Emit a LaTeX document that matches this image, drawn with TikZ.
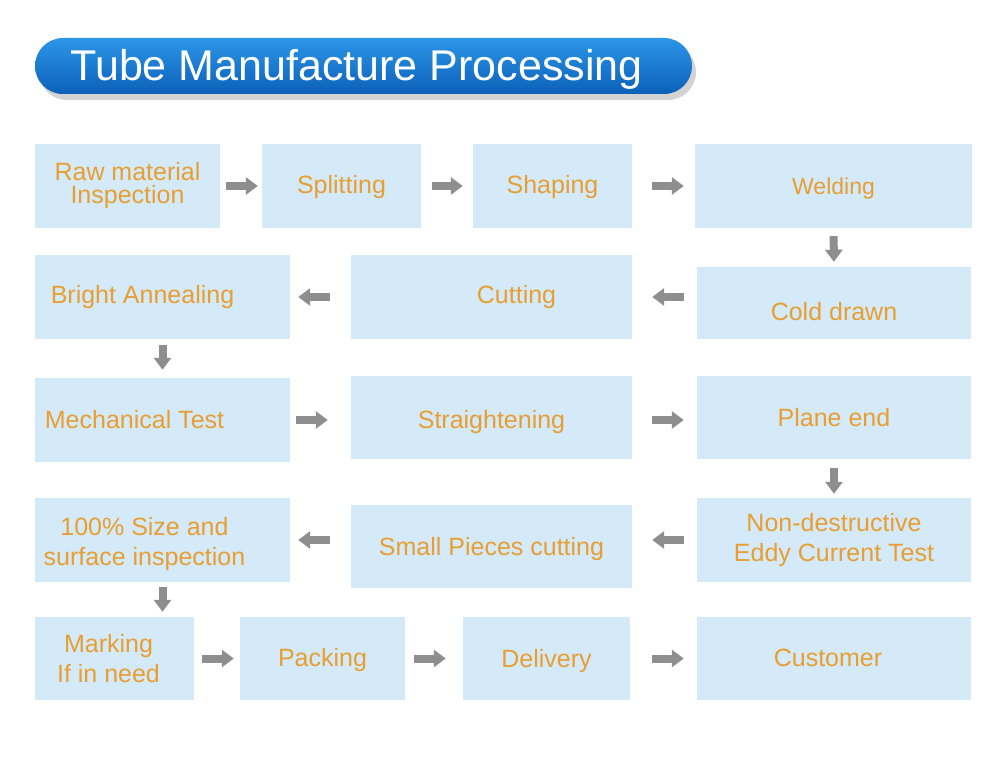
\documentclass[tikz,border=0pt]{standalone}
\usepackage{fontspec}
\setmainfont{Liberation Sans}
\usetikzlibrary{positioning,arrows.meta,calc,shadows}
\definecolor{boxBlue}{HTML}{D4EAF8}
\definecolor{labelOrange}{HTML}{E89E30}
\definecolor{arrowGray}{HTML}{8E8E8E}
\definecolor{titleTop}{HTML}{2C96E8}
\definecolor{titleBottom}{HTML}{0B60B8}
\newcommand{\nudge}[1]{\hspace*{#1}}

\begin{document}
\begin{tikzpicture}[x=1pt, y=-1pt, font=\fontsize{25}{30}\selectfont,
      proc/.style={fill=boxBlue, text=labelOrange, inner sep=0pt, align=center,
        minimum height=84pt},
      oneLine/.style={text height=#1, text depth=0pt},
      oneLine/.default=18pt,
      flow/.style={-{Triangle[length=12pt, width=17pt]}, line width=8pt, draw=arrowGray}]
    \useasboundingbox (0,0) rectangle (1000,765);
    % ---- title bar
    \node[rounded corners=28pt, top color=titleTop, bottom color=titleBottom,
      minimum width=657pt, minimum height=56pt, text=white,
      font=\fontsize{43}{50}\selectfont, text height=30pt, text depth=0pt,
      drop shadow={shadow xshift=4pt, shadow yshift=-6pt, opacity=0.35}] (title) at (363.5,66)
      {\nudge{-14pt}Tube Manufacture Processing};
    % ---- row 1
    \node[proc, minimum width=185pt, font=\fontsize{25}{23}\selectfont] (raw) at (127.5,186) {Raw material\\Inspection};
    \node[proc, oneLine=14pt, minimum width=159pt] (split) at (341.5,186) {Splitting};
    \node[proc, oneLine=14pt, minimum width=159pt] (shape) at (552.5,186) {Shaping};
    \node[proc, oneLine=17pt, minimum width=277pt, font=\fontsize{23}{28}\selectfont] (weld) at (833.5,186) {Welding};
    % ---- row 2
    \node[proc, oneLine=34pt, minimum width=274pt, minimum height=72pt] (cold) at (834,303) {Cold drawn};
    \node[proc, oneLine=13pt, minimum width=281pt] (cut) at (491.5,297) {\nudge{50pt}Cutting};
    \node[proc, oneLine=13pt, minimum width=255pt] (bright) at (162.5,297) {\nudge{-40pt}Bright Annealing};
    % ---- row 3
    \node[proc, oneLine=16pt, minimum width=255pt] (mech) at (162.5,420) {\nudge{-56pt}Mechanical Test};
    \node[proc, oneLine=21pt, minimum width=281pt, minimum height=83pt] (straight) at (491.5,417.5) {Straightening};
    \node[proc, oneLine, minimum width=274pt, minimum height=83pt] (plane) at (834,417.5) {Plane end};
    % ---- row 4
    \node[proc, minimum width=274pt] (ndt) at (834,540) {Non-destructive\\Eddy Current Test};
    \node[proc, oneLine, minimum width=281pt, minimum height=83pt] (small) at (491.5,546.5) {Small Pieces cutting};
    \node[proc, minimum width=255pt] (size) at (162.5,540)
      {\rule{0pt}{26pt}\nudge{-36pt}100\% Size and\\\nudge{-36pt}surface inspection};
    % ---- row 5
    \node[proc, minimum width=159pt, minimum height=83pt] (mark) at (114.5,658.5)
      {\nudge{-12pt}Marking\\\nudge{-12pt}If in need};
    \node[proc, oneLine=16pt, minimum width=165pt, minimum height=83pt] (pack) at (322.5,658.5) {Packing};
    \node[proc, oneLine, minimum width=167pt, minimum height=83pt] (deliv) at (546.5,658.5) {Delivery};
    \node[proc, oneLine=16pt, minimum width=274pt, minimum height=83pt] (cust) at (834,658.5) {\nudge{-12pt}Customer};
    % ---- arrows
    \draw[flow, shorten <=6pt, shorten >=4pt] (raw.east) -- (split.west);
    \draw[flow, shorten <=11pt, shorten >=10pt] (split.east) -- (shape.west);
    \draw[flow, shorten <=20pt, shorten >=11pt] (shape.east) -- (weld.west);
    \draw[flow, shorten <=8pt, shorten >=5pt] (weld.south) -- (cold.north);
    \draw[flow, shorten <=13pt, shorten >=20pt] (cold.west |- cut.east) -- (cut.east);
    \draw[flow, shorten <=21pt, shorten >=8pt] (cut.west) -- (bright.east);
    \draw[flow, shorten <=6pt, shorten >=8pt] (bright.south) -- (mech.north);
    \draw[flow, shorten <=6pt, shorten >=23pt] (mech.east) -- (mech.east -| straight.west);
    \draw[flow, shorten <=20pt, shorten >=13pt] (straight.east |- mech.east) -- (plane.west |- mech.east);
    \draw[flow, shorten <=9pt, shorten >=4pt] (plane.south) -- (ndt.north);
    \draw[flow, shorten <=13pt, shorten >=20pt] (ndt.west) -- (ndt.west -| small.east);
    \draw[flow, shorten <=21pt, shorten >=8pt] (small.west |- size.east) -- (size.east);
    \draw[flow, shorten <=5pt, shorten >=5pt] (size.south) -- (size.south |- mark.north);
    \draw[flow, shorten <=8pt, shorten >=6pt] (mark.east) -- (pack.west);
    \draw[flow, shorten <=9pt, shorten >=17pt] (pack.east) -- (deliv.west);
    \draw[flow, shorten <=22pt, shorten >=13pt] (deliv.east) -- (cust.west);
  \end{tikzpicture}
\end{document}
